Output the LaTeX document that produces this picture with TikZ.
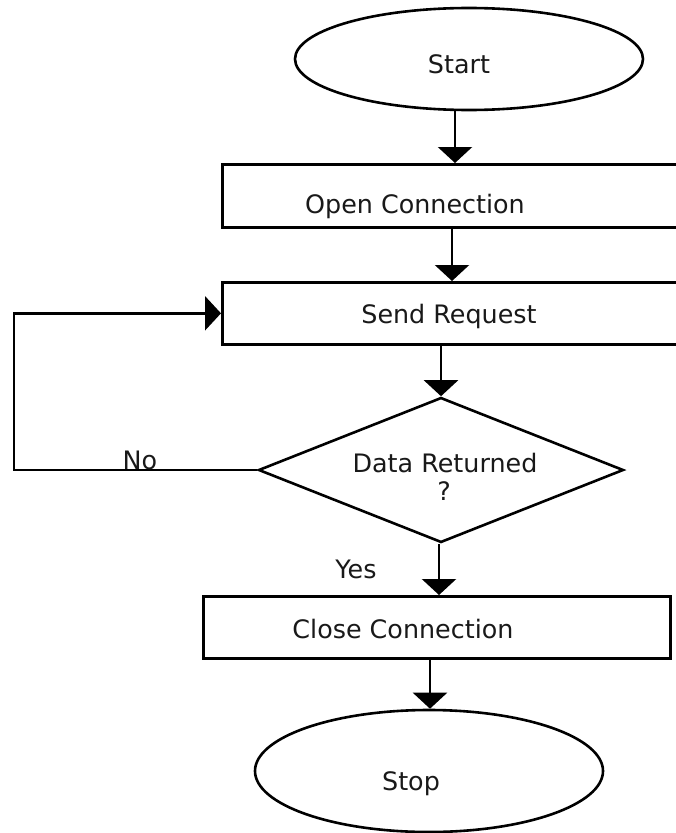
\documentclass[tikz,border=0pt]{standalone}
\usepackage{fontspec}
\setmainfont{DejaVu Sans}
\usetikzlibrary{shapes.geometric,arrows.meta,calc}
\begin{document}
\begin{tikzpicture}[x=1bp,y=-1bp,
  line/.style={line width=2.6bp, black},
  arr/.style={line, -{Triangle[width=34bp,length=16bp]}},
  term/.style={ellipse, draw, line width=2.6bp, minimum width=348bp, inner sep=0},
  procbox/.style={draw, line width=2.6bp, rectangle, inner sep=0, anchor=north west},
  lbl/.style={font=\fontsize{25.5}{30}\selectfont, text=black!90, inner sep=0, anchor=base},
]
\clip (0,0) rectangle (676,833);
\useasboundingbox (0,0) rectangle (676,833);

\node[term, minimum height=102bp] (start) at (469,59) {};
\node[lbl] (tstart) at (459,73) {Start};

\node[procbox, minimum width=480bp, minimum height=63bp] (open) at (221,163) {};
\node[lbl] (topen) at (415,213) {Open Connection};

\node[procbox, minimum width=480bp, minimum height=62bp] (send) at (221,281) {};
\node[lbl] (tsend) at (449,323) {Send Request};

\node[diamond, draw, line width=2.6bp, inner sep=0, minimum width=365bp, minimum height=145bp] (dec) at (441,470) {};
\node[lbl] (tdec1) at (445,472) {Data Returned};
\node[lbl] (tdec2) at (444,500) {?};

\node[procbox, minimum width=467bp, minimum height=62bp] (close) at (202,595) {};
\node[lbl] (tclose) at (403,638) {Close Connection};

\node[term, minimum height=122bp] (stop) at (429,771) {};
\node[lbl] (tstop) at (411,790) {Stop};

\coordinate (a1) at ($(start.south)+(-14,0)$);
\coordinate (a2) at ($(open.south west)+(231,0)$);
\coordinate (a3) at ($(send.south west)+(220,0)$);
\coordinate (a4) at ($(dec.south)+(-2,0)$);
\coordinate (a5) at ($(close.south west)+(228,0)$);
\draw[arr] (a1) -- (a1 |- open.north);
\draw[arr] (a2) -- (a2 |- send.north);
\draw[arr] (a3) -- (dec.north);
\draw[arr] (a4) -- (a4 |- close.north);
\draw[arr] (a5) -- (a5 |- stop.north);

\coordinate (lb) at (dec.west -| 14,0);
\draw[arr] (dec.west) -- (lb) |- (send.west);

\node[lbl] (no) at (140,469) {No};
\node[lbl] (yes) at (356,578) {Yes};
\end{tikzpicture}
\end{document}
